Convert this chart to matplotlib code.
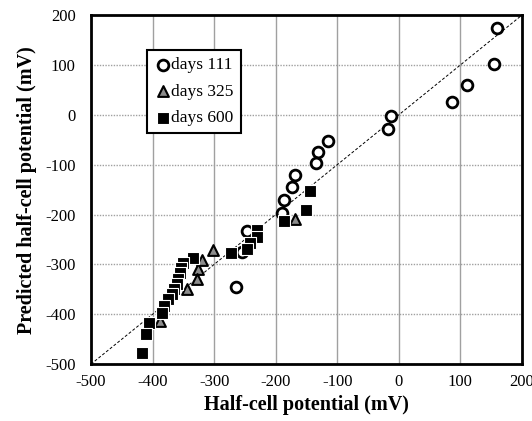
import matplotlib.pyplot as plt
import numpy as np

plt.rcParams['font.family'] = ['Liberation Serif', 'DejaVu Serif']
plt.rcParams['axes.unicode_minus'] = False

# days 111
x111 = [160, 154, 111, 87, -12, -17, -115, -131, -134, -169, -173, -186, -190, -247, -255, -265]
y111 = [175, 103, 59, 26, -2, -28, -52, -75, -97, -120, -145, -170, -197, -232, -276, -345]

# days 325
x325 = [-169, -301, -320, -326, -328, -344, -388]
y325 = [-208, -271, -291, -310, -329, -349, -413]

# days 600
x600 = [-145, -150, -186, -231, -231, -242, -247, -273, -334, -350, -353, -355,
        -358, -361, -365, -369, -375, -382, -385, -406, -410, -417]
y600 = [-153, -191, -213, -230, -245, -257, -269, -278, -288, -297, -307, -318,
        -330, -340, -350, -360, -370, -383, -397, -417, -440, -477]

fig = plt.figure(figsize=(5.32, 4.21), dpi=100)
ax = fig.add_axes([0.171, 0.135, 0.81, 0.829])

ax.plot([-500, 200], [-500, 200], ls=(0, (3, 2)), color='black', lw=0.7, zorder=2)

ax.scatter(x111, y111, s=60, facecolor='white', edgecolor='black', linewidths=2,
           label='days 111', zorder=3)
ax.scatter(x325, y325, s=60, marker='^', facecolor='#8c8c8c', edgecolor='black',
           linewidths=1.5, label='days 325', zorder=4)
ax.scatter(x600, y600, s=70, marker='s', facecolor='black', edgecolor='white',
           linewidths=0.8, label='days 600', zorder=5)

ax.set_xlim(-500, 200)
ax.set_ylim(-500, 200)
ax.set_xticks(np.arange(-500, 201, 100))
ax.set_yticks(np.arange(-500, 201, 100))
ax.xaxis.grid(True, color='#a0a0a0', lw=1)
ax.yaxis.grid(True, color='#a0a0a0', lw=1, ls=(0, (1, 1)))
ax.set_axisbelow(True)
for s in ax.spines.values():
    s.set_linewidth(2)
ax.tick_params(labelsize=12, length=0)
ax.tick_params(axis='x', pad=7)
ax.tick_params(axis='y', pad=11)

ax.set_xlabel('Half-cell potential (mV)', fontsize=14.5, fontweight='bold', labelpad=4)
ax.set_ylabel('Predicted half-cell potential (mV)', fontsize=14.5, fontweight='bold', labelpad=6)

leg = ax.legend(loc='upper left', bbox_to_anchor=(0.13, 0.9), fontsize=12.5,
                frameon=True, fancybox=False, edgecolor='black', framealpha=1,
                handletextpad=0.0, borderpad=0.4, labelspacing=0.6, handlelength=1.0,
                borderaxespad=0)
leg.get_frame().set_linewidth(1.5)

fig.savefig('out.png', dpi=100)
